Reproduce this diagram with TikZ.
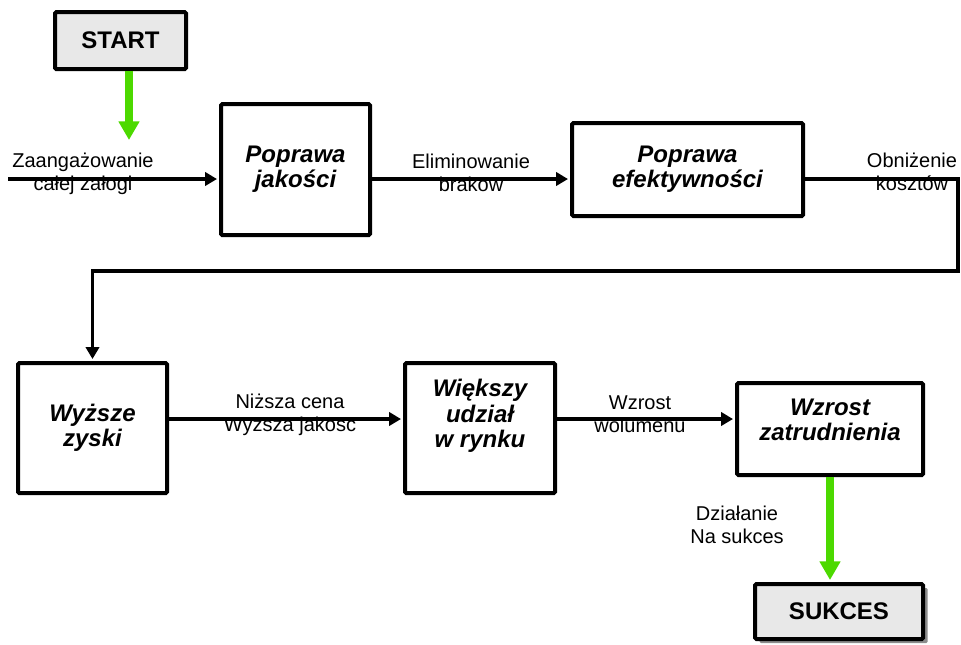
\documentclass[tikz,border=0pt]{standalone}
\usepackage{fontspec}
\setmainfont{Liberation Sans}
\usetikzlibrary{arrows.meta,positioning,shadows}
\definecolor{zielen}{RGB}{76,217,0}
\definecolor{szary}{RGB}{232,232,232}

\tikzset{
	krok/.style={draw,line width=3pt,rounded corners=1pt,align=center,inner sep=0pt,
		font=\fontsize{18}{19}\selectfont\bfseries\itshape},
	koniec/.style={krok,fill=szary,font=\fontsize{18}{19}\selectfont\bfseries},
	opis/.style={align=center,inner sep=0pt,font=\fontsize{15}{17.25}\selectfont},
	strzalka/.style={line width=2.4pt,shorten >=1.5pt,-{Triangle[length=9pt,width=10pt]}},
	zielona/.style={line width=6pt,draw=zielen,shorten >=1.5pt,-{Triangle[length=14pt,width=15pt]}}
}

\begin{document}
\begin{tikzpicture}[x=0.75pt,y=-0.75pt]
	\useasboundingbox (0,0) rectangle (961,644);

	\node[koniec,minimum width=98.25pt,minimum height=42.75pt] (start) at (120.5,40.5) {START};
	\node[krok,minimum width=111.75pt,minimum height=98.25pt] (jakosc) at (295.5,169.5) {Poprawa\\jakości};
	\node[krok,minimum width=173.25pt,minimum height=69.75pt] (efekt) at (687.5,169.5) {Poprawa\\efektywności};
	\node[krok,minimum width=111.75pt,minimum height=97.5pt] (zyski) at (92.5,428) {Wyższe\\zyski};
	\node[krok,minimum width=112.5pt,minimum height=97.5pt] (udzial) at (480,428) {Większy\\udział\\w rynku\\[3pt]\mbox{}};
	\node[krok,minimum width=139.5pt,minimum height=69pt] (zatrud) at (830,429) {Wzrost\\zatrudnienia\\[-5.5pt]\mbox{}};
	\node[koniec,minimum width=126pt,minimum height=41.25pt,
		drop shadow={shadow xshift=3.5pt,shadow yshift=-3pt,fill=black!45,opacity=1}] (sukces) at (839,611.5) {SUKCES};

	\node[opis] (zaang) at (83,174) {Zaangażowanie\\całej załogi};
	\node[opis] (elim) at (471,173) {Eliminowanie\\brakow};
	\node[opis] (obniz) at (912,172) {Obniżenie\\kosztów};
	\node[opis] (cena) at (290,415) {Niższa cena\\Wyzsza jakosc};
	\node[opis] (wolumen) at (640,414) {Wzrost\\wolumenu};
	\node[opis] (dzial) at (737,525) {Działanie\\Na sukces};

	\coordinate (wejscie) at (8,179);
	\coordinate (zakret) at (958,271);
	\coordinate (rzad) at (0,419);
	\coordinate (startcel) at (129,142);

	\draw[zielona] (start.south -| startcel) to (startcel);
	\draw[strzalka] (wejscie) to (wejscie -| jakosc.west);
	\draw[strzalka] (jakosc.east |- wejscie) to (efekt.west |- wejscie);
	\draw[strzalka] (efekt.east |- wejscie) -| (zakret) -| (zyski.north);
	\draw[strzalka] (zyski.east |- rzad) to (udzial.west |- rzad);
	\draw[strzalka] (udzial.east |- rzad) to (zatrud.west |- rzad);
	\draw[zielona] (zatrud.south) to (zatrud.south |- sukces.north);
\end{tikzpicture}
\end{document}
